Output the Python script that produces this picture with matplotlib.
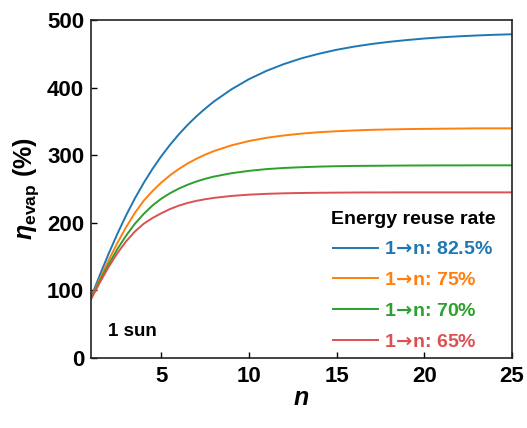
import matplotlib
matplotlib.use("Agg")
import matplotlib.pyplot as plt

n = [1, 1.5, 2, 2.5, 3, 3.5, 4, 4.5, 5, 5.5, 6, 6.5, 7, 7.5, 8,
     9, 10, 11, 12, 13, 14, 15, 16, 17, 18, 19, 20, 21, 22, 23, 24, 25]

eta_825 = [89.5, 122.5, 154, 183.5, 211, 236, 258.8, 279.5, 298.3, 315.2, 330.6, 344.6,
           357.3, 368.7, 379.3, 397.3, 412.4, 424.7, 434.8, 443.3, 450.1, 455.9, 460.6, 464.5,
           467.7, 470.3, 472.6, 474.4, 475.9, 477.1, 478.1, 478.9]
eta_75 = [88, 117, 144.5, 170, 193.5, 214.5, 232.5, 246.8, 259.3, 270.1, 279.5, 287.6,
          294.6, 300.7, 306.0, 314.5, 320.9, 325.7, 329.2, 331.9, 334.0, 335.4, 336.6, 337.5,
          338.1, 338.6, 338.9, 339.2, 339.4, 339.7, 339.7, 339.7]
eta_70 = [88, 114, 138.5, 161, 181, 198.5, 213, 225.5, 235.5, 243.7, 250.5, 256.2,
          261.0, 265.0, 268.3, 273.3, 276.8, 279.4, 281.1, 282.2, 283.1, 283.7, 284.1, 284.3,
          284.5, 284.7, 284.8, 284.9, 284.9, 285.0, 285.0, 285.0]
eta_65 = [87, 111.5, 134.5, 155, 172.5, 187, 198.5, 207, 214, 220.3, 225.3, 229.3,
          232.4, 234.8, 236.8, 239.7, 241.6, 242.8, 243.6, 244.1, 244.4, 244.6, 244.8, 244.9,
          244.9, 245.0, 245.0, 245.0, 245.0, 245.0, 245.0, 245.0]

series = [
    ("1$\\!\\rightarrow\\!$n: 82.5%", eta_825, "#1f77b4"),
    ("1$\\!\\rightarrow\\!$n: 75%", eta_75, "#ff7f0e"),
    ("1$\\!\\rightarrow\\!$n: 70%", eta_70, "#2ca02c"),
    ("1$\\!\\rightarrow\\!$n: 65%", eta_65, "#dc5052"),
]

plt.rcParams["font.family"] = ["Liberation Sans", "DejaVu Sans"]
plt.rcParams["font.weight"] = "bold"
plt.rcParams["mathtext.fontset"] = "custom"
plt.rcParams["mathtext.rm"] = "DejaVu Sans"
plt.rcParams["mathtext.bf"] = "Liberation Sans:bold"
plt.rcParams["mathtext.bfit"] = "Liberation Sans:italic:bold"
plt.rcParams["mathtext.it"] = "Liberation Sans:italic"

fig = plt.figure(figsize=(5.27, 4.28), dpi=100)
ax = fig.add_axes([0.1727, 0.1636, 0.7988, 0.7897])

for label, vals, color in series:
    ax.plot(n, vals, color=color, linewidth=1.4, label=label)

ax.set_xlim(1, 25)
ax.set_ylim(0, 500)
ax.set_xticks([5, 10, 15, 20, 25])
ax.set_yticks([0, 100, 200, 300, 400, 500])
ax.tick_params(direction="in", length=4, width=1, labelsize=16, pad=5)
ax.tick_params(axis="x", pad=6)
for lab in ax.get_xticklabels() + ax.get_yticklabels():
    lab.set_fontweight("bold")
for sp in ax.spines.values():
    sp.set_linewidth(1.2)
    sp.set_color("#222222")

ax.set_xlabel("n", fontsize=18, fontstyle="italic", fontweight="bold", labelpad=-1)
ax.set_ylabel("$\\boldsymbol{\\eta}_{\\mathbf{evap}}$ (%)", fontsize=18, fontweight="bold", labelpad=4)

ax.text(0.04, 0.065, "1 sun", transform=ax.transAxes, fontsize=13.5, fontweight="bold")

leg = ax.legend(loc="lower right", bbox_to_anchor=(1.002, -0.031), frameon=False,
                title="Energy reuse rate", handlelength=2.3, handletextpad=0.3,
                labelspacing=0.68, fontsize=14, labelcolor="linecolor",
                title_fontproperties={"weight": "bold", "size": 14})

fig.savefig("out.png", dpi=100)
